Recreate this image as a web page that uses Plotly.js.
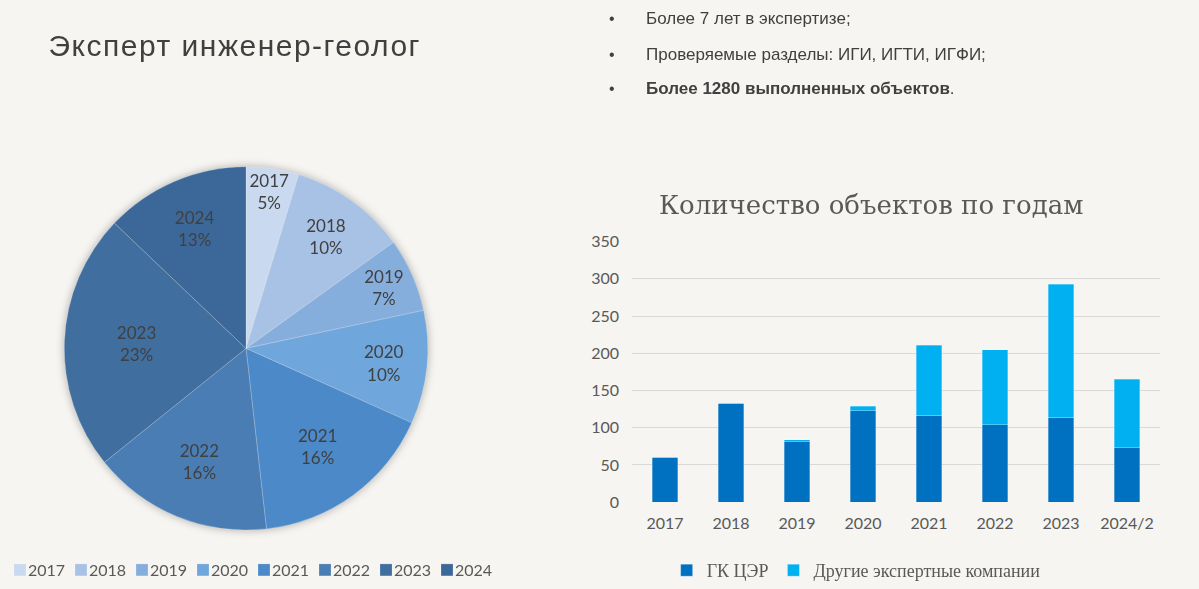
<!DOCTYPE html>
<html>
<head>
<meta charset="utf-8">
<script src="https://cdn.plot.ly/plotly-3.0.1.min.js"></script>
<style>
  html, body { margin: 0; padding: 0; background: #f6f5f1; }
  #chart { width: 1199px; height: 589px; }
  .pielayer { filter: drop-shadow(0 0 4px rgba(0,0,0,0.3)); }
  g.annotation[data-index="0"] text { letter-spacing: 1.5px; }
  .scrollbox { clip-path: none !important; }
</style>
</head>
<body>
<div id="chart"></div>
<script>
// pie: share of objects by year
const pieYears = ['2017', '2018', '2019', '2020', '2021', '2022', '2023', '2024'];
const pieValues = [60, 133, 84, 129, 211, 205, 293, 165];
const pieColors = ['#c9d9ef', '#a8c2e5', '#86aedc', '#6fa6dc', '#4b89c8', '#4a7db3', '#3f6e9f', '#3b6898'];

// bars: objects per year
const barYears = ['2017', '2018', '2019', '2020', '2021', '2022', '2023', '2024/2'];
const gkCer = [60, 133, 81, 123, 117, 104, 114, 73];
const otherCompanies = [0, 0, 3, 6, 94, 101, 179, 92];

const bullets = ['Более 7 лет в экспертизе;', 'Проверяемые разделы: ИГИ, ИГТИ, ИГФИ;', '<b>Более 1280 выполненных объектов</b>.'];

const textColor = '#595959';
const sansFont = 'Lato, "Liberation Sans", sans-serif';

let pieTrace = {
  type: 'pie',
  labels: pieYears,
  values: pieValues,
  sort: false,
  direction: 'clockwise',
  rotation: 0,
  marker: {colors: pieColors, line: {color: 'rgba(255,255,255,0.35)', width: 0.6}},
  texttemplate: '%{label}<br>%{percent:.0%}',
  textposition: 'inside',
  insidetextorientation: 'horizontal',
  textfont: {family: sansFont, size: 17, color: '#404040'},
  domain: {x: [64 / 1199, 428 / 1199], y: [1 - 531 / 589, 1 - 167 / 589]},
  hoverinfo: 'skip',
  legend: 'legend'
};

let gkTrace = {
  type: 'bar',
  name: 'ГК ЦЭР',
  x: barYears,
  y: gkCer,
  marker: {color: '#0070c0', line: {color: 'rgba(255,255,255,0.6)', width: 0.5}},
  xaxis: 'x',
  yaxis: 'y',
  legend: 'legend2'
};

let otherTrace = {
  type: 'bar',
  name: 'Другие экспертные компании',
  x: barYears,
  y: otherCompanies,
  marker: {color: '#00b0f0', line: {color: 'rgba(255,255,255,0.6)', width: 0.5}},
  xaxis: 'x',
  yaxis: 'y',
  legend: 'legend2'
};

let annotations = [
  {
    text: 'Эксперт инженер-геолог',
    xref: 'paper', yref: 'paper', x: 235 / 1199, y: 1 - 46 / 589,
    xanchor: 'center', yanchor: 'middle', showarrow: false,
    font: {family: '"Liberation Sans", Arial, sans-serif', size: 30, color: '#404040'}
  },
  {
    text: 'Количество объектов по годам',
    xref: 'paper', yref: 'paper', x: 871 / 1199, y: 1 - 205 / 589,
    xanchor: 'center', yanchor: 'middle', showarrow: false,
    font: {family: '"DejaVu Serif", "Liberation Serif", serif', size: 26, color: textColor}
  }
];

const bulletY = [19, 55, 89];
bullets.forEach(function (b, i) {
  annotations.push({
    text: '•',
    xref: 'paper', yref: 'paper', x: 612 / 1199, y: 1 - bulletY[i] / 589,
    xanchor: 'center', yanchor: 'middle', showarrow: false,
    font: {family: '"Liberation Sans", Arial, sans-serif', size: 16, color: '#404040'}
  });
  annotations.push({
    text: b,
    xref: 'paper', yref: 'paper', x: 644 / 1199, y: 1 - bulletY[i] / 589,
    xanchor: 'left', yanchor: 'middle', showarrow: false,
    font: {family: '"Liberation Sans", Arial, sans-serif', size: 17, color: '#404040'}
  });
});

let layout = {
  width: 1199,
  height: 589,
  margin: {l: 0, r: 0, t: 0, b: 0},
  paper_bgcolor: '#f6f5f1',
  plot_bgcolor: '#f6f5f1',
  barmode: 'stack',
  bargap: 0.62,
  uniformtext: {minsize: 17, mode: 'show'},
  xaxis: {
    type: 'category',
    domain: [632 / 1199, 1160 / 1199],
    tickfont: {family: sansFont, size: 16, color: textColor},
    ticks: '',
    showline: false,
    showgrid: false,
    ticklabelstandoff: 10
  },
  yaxis: {
    domain: [1 - 503 / 589, 1 - 242 / 589],
    range: [0, 350],
    dtick: 50,
    tickfont: {family: sansFont, size: 16, color: textColor},
    gridcolor: '#d9d9d9',
    gridwidth: 1,
    zeroline: false,
    ticks: '',
    ticklabelstandoff: 12
  },
  legend: {
    orientation: 'h',
    x: 0.0, y: 1 - 553 / 589,
    xanchor: 'left', yanchor: 'top',
    entrywidth: 16,
    font: {family: sansFont, size: 16, color: textColor},
    bgcolor: 'rgba(0,0,0,0)'
  },
  legend2: {
    orientation: 'h',
    traceorder: 'normal',
    x: 0.556, y: 1 - 553 / 589,
    xanchor: 'left', yanchor: 'top',
    font: {family: '"Liberation Serif", serif', size: 18, color: textColor},
    bgcolor: 'rgba(0,0,0,0)'
  },
  annotations: annotations
};

// pull legend labels closer to their swatches
function tightenLegends(gd) {
  gd.querySelectorAll('.legendtext').forEach(function (t) {
    if (t.dataset.shifted) return;
    t.dataset.shifted = '1';
    t.setAttribute('x', parseFloat(t.getAttribute('x') || 0) - 12);
  });
}

Plotly.newPlot('chart', [pieTrace, gkTrace, otherTrace], layout, {displayModeBar: false, staticPlot: true})
  .then(function (gd) {
    tightenLegends(gd);
    setTimeout(function () { tightenLegends(gd); }, 50);
  });
</script>
</body>
</html>
